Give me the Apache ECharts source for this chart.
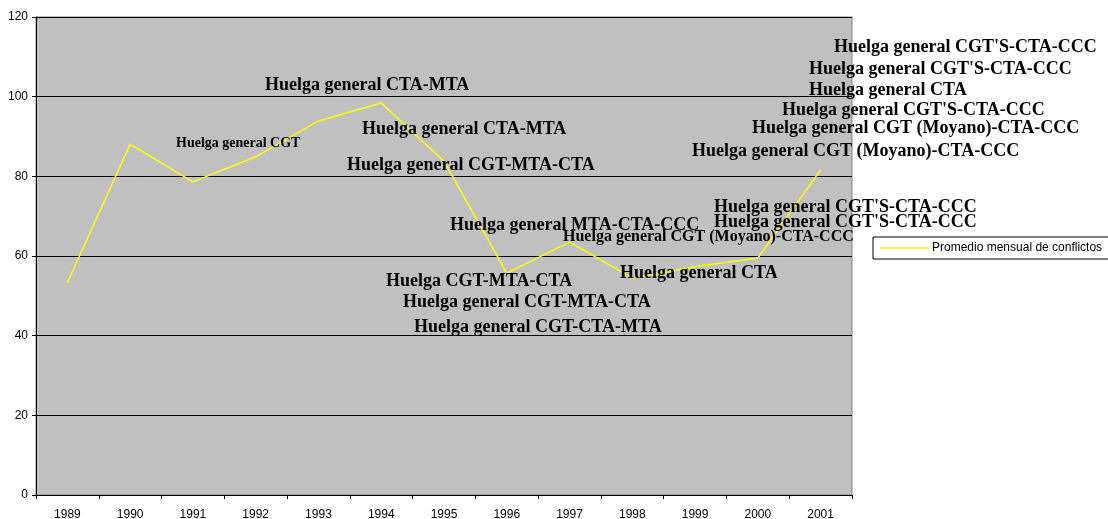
<!DOCTYPE html>
<html>
<head>
<meta charset="utf-8">
<script src="https://cdn.jsdelivr.net/npm/echarts@6/dist/echarts.min.js"></script>
<style>
  html, body { margin: 0; padding: 0; background: #fff; }
  #chart { width: 1108px; height: 519px; }
</style>
</head>
<body>
<div id="chart"></div>
<script>
// categories and values
const years = ["1989", "1990", "1991", "1992", "1993", "1994", "1995", "1996", "1997", "1998", "1999", "2000", "2001"];
const conflicts = [53.3, 88.1, 78.6, 84.9, 93.9, 98.4, 83.8, 55.7, 63.5, 54.5, 57.3, 59.5, 81.6];
const yTicks = [0, 20, 40, 60, 80, 100, 120];
const seriesName = "Promedio mensual de conflictos";

// annotation texts (layout kept separately below)
const notes = [
  "Huelga general CTA-MTA",
  "Huelga general CGT",
  "Huelga general CTA-MTA",
  "Huelga general CGT-MTA-CTA",
  "Huelga general MTA-CTA-CCC",
  "Huelga general CGT (Moyano)-CTA-CCC",
  "Huelga CGT-MTA-CTA",
  "Huelga general CGT-MTA-CTA",
  "Huelga general CGT-CTA-MTA",
  "Huelga general CTA",
  "Huelga general CGT'S-CTA-CCC",
  "Huelga general CGT'S-CTA-CCC",
  "Huelga general CGT (Moyano)-CTA-CCC",
  "Huelga general CGT (Moyano)-CTA-CCC",
  "Huelga general CGT'S-CTA-CCC",
  "Huelga general CTA",
  "Huelga general CGT'S-CTA-CCC",
  "Huelga general CGT'S-CTA-CCC"
];

// [x, y, fontSize] for each note, in pixels
const noteLayout = [
  [265, 85, 18], [176, 143, 14], [362, 129, 18], [347, 165, 18],
  [450, 225, 18], [563, 237, 16], [386, 281, 18], [403, 302, 18],
  [414, 327, 18], [620, 273, 18], [714, 207, 18], [714, 222, 18],
  [692, 151, 18], [752, 128, 18], [782, 110, 18], [809, 90, 18],
  [809, 69, 18], [834, 47, 18]
];

const noteGraphics = notes.map((t, i) => ({
  type: "text",
  x: noteLayout[i][0],
  y: noteLayout[i][1],
  z: 100,
  style: {
    text: t,
    fill: "#000",
    font: "bold " + noteLayout[i][2] + "px 'Liberation Serif', 'Times New Roman', serif",
    textVerticalAlign: "middle"
  }
}));

const chart = echarts.init(document.getElementById("chart"));
const option = {
  animation: false,
  backgroundColor: "#fff",
  grid: {
    left: 36,
    top: 17,
    width: 816,
    height: 478,
    containLabel: false,
    outerBoundsMode: "none",
    show: true,
    backgroundColor: "#c0c0c0",
    borderColor: "#808080",
    borderWidth: 1
  },
  legend: {
    left: 873,
    top: 237,
    orient: "vertical",
    padding: [4, 7],
    borderColor: "#000",
    borderWidth: 1,
    borderRadius: 0,
    backgroundColor: "#fff",
    icon: "rect",
    itemWidth: 49,
    itemHeight: 1.5,
    itemGap: 0,
    data: [seriesName],
    textStyle: {
      fontFamily: "'Liberation Sans', Arial, sans-serif",
      fontSize: 12,
      color: "#000",
      lineHeight: 14,
      padding: [0, 0, 0, -2]
    }
  },
  xAxis: {
    type: "category",
    data: years,
    boundaryGap: true,
    axisLine: { lineStyle: { color: "#000", width: 1 } },
    axisTick: { show: true, length: 4, lineStyle: { color: "#000" } },
    axisLabel: {
      margin: 14,
      color: "#000",
      fontSize: 12,
      fontFamily: "'Liberation Sans', Arial, sans-serif"
    },
    splitLine: { show: false }
  },
  yAxis: {
    type: "value",
    min: yTicks[0],
    max: yTicks[yTicks.length - 1],
    interval: 20,
    axisLine: { show: true, lineStyle: { color: "#000", width: 1 } },
    axisTick: { show: true, length: 4, lineStyle: { color: "#000" } },
    axisLabel: {
      margin: 8,
      color: "#000",
      fontSize: 12,
      fontFamily: "'Liberation Sans', Arial, sans-serif"
    },
    splitLine: { show: true, lineStyle: { color: "#000", width: 1 } }
  },
  series: [
    {
      name: seriesName,
      type: "line",
      data: conflicts,
      symbol: "none",
      smooth: false,
      z: 5,
      lineStyle: { color: "#ffff00", width: 1.5 },
      itemStyle: { color: "#ffff00" }
    }
  ],
  graphic: noteGraphics
};
chart.setOption(option);
</script>
</body>
</html>
